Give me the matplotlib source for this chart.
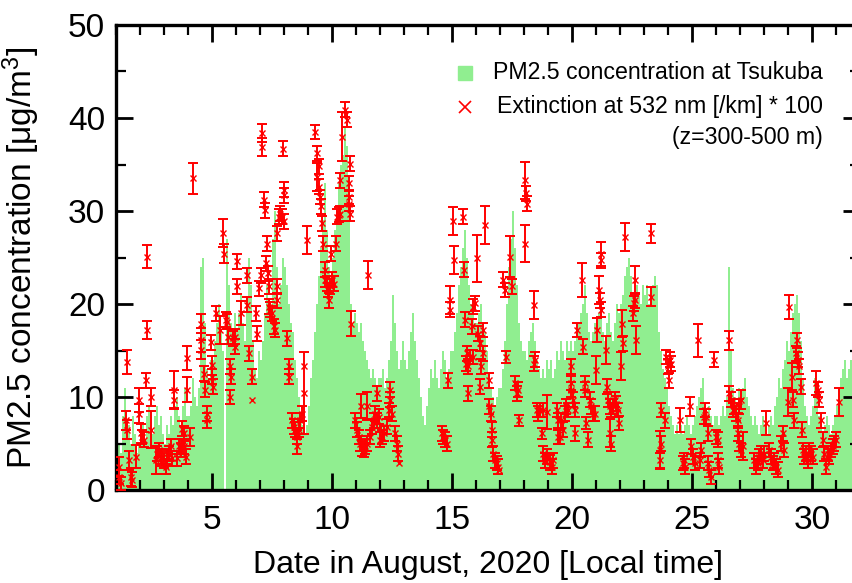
import numpy as np
import matplotlib
matplotlib.use("Agg")
import matplotlib.pyplot as plt
from matplotlib.ticker import MultipleLocator

plt.rcParams['font.family'] = ['Liberation Sans', 'DejaVu Sans']
plt.rcParams['mathtext.fontset'] = 'custom'
plt.rcParams['mathtext.rm'] = 'Liberation Sans'
plt.rcParams['mathtext.it'] = 'Liberation Sans:italic'

# PM2.5 at Tsukuba, 2-hourly means (12 per day), Aug 1 00:00 to Aug 31 24:00 [ug/m3]
pm25 = [
    3, 5, 4, 8, 11, 6, 7, 5, 8, 6, 4, 5,            # Aug 1
    6, 7, 5, 8, 9, 7, 6, 8, 9, 7, 8, 6,             # Aug 2
    5, 7, 6, 8, 7, 9, 10, 8, 7, 9, 11, 8,           # Aug 3
    8, 9, 12, 10, 9, 11, 24, 25, 18, 13, 12, 14,    # Aug 4
    14, 16, 18, 20, 17, 15, 0, 27, 22, 18, 16, 19,  # Aug 5
    17, 19, 21, 18, 16, 20, 25, 22, 16, 13, 12, 15, # Aug 6
    14, 16, 19, 22, 20, 18, 27, 30, 24, 20, 22, 25, # Aug 7
    24, 22, 20, 18, 17, 14, 12, 10, 8, 7, 6, 7,     # Aug 8
    9, 12, 14, 17, 20, 23, 26, 29, 33, 28, 24, 22,  # Aug 9
    25, 28, 30, 33, 35, 36, 39, 37, 33, 20, 18, 19, # Aug 10
    18, 17, 18, 16, 15, 14, 13, 12, 13, 12, 11, 12, # Aug 11
    12, 13, 11, 12, 14, 16, 21, 18, 15, 13, 14, 16, # Aug 12
    14, 13, 15, 17, 19, 16, 14, 12, 10, 8, 7, 9,    # Aug 13
    11, 13, 12, 14, 12, 11, 13, 15, 14, 12, 13, 15, # Aug 14
    15, 17, 19, 22, 24, 26, 28, 25, 22, 20, 19, 18, # Aug 15
    18, 19, 20, 18, 17, 15, 12, 11, 10, 9, 10, 11,  # Aug 16
    11, 13, 16, 20, 24, 27, 30, 26, 22, 18, 16, 15, # Aug 17
    15, 14, 16, 17, 18, 16, 14, 13, 12, 13, 12, 14, # Aug 18
    13, 14, 12, 13, 15, 14, 16, 15, 14, 16, 15, 16, # Aug 19
    15, 16, 17, 18, 19, 20, 22, 19, 17, 16, 17, 18, # Aug 20
    18, 19, 20, 17, 16, 18, 19, 17, 16, 18, 20, 19, # Aug 21
    20, 21, 23, 24, 25, 23, 21, 20, 22, 21, 20, 22, # Aug 22
    21, 22, 20, 21, 22, 23, 22, 17, 15, 13, 12, 11, # Aug 23
    9, 8, 7, 6, 7, 6, 7, 6, 7, 8, 7, 6,             # Aug 24
    7, 8, 9, 10, 11, 12, 9, 8, 9, 8, 7, 8,          # Aug 25
    8, 7, 8, 9, 8, 10, 24, 15, 11, 10, 9, 11,       # Aug 26
    10, 11, 12, 10, 9, 8, 7, 8, 7, 6, 7, 8,         # Aug 27
    7, 6, 7, 8, 7, 9, 10, 12, 11, 13, 14, 16,       # Aug 28
    15, 17, 19, 20, 21, 19, 16, 12, 9, 8, 7, 8,     # Aug 29
    9, 12, 10, 8, 7, 6, 7, 8, 7, 6, 7, 8,           # Aug 30
    9, 11, 12, 13, 14, 12, 13, 14, 12, 13, 11, 12,  # Aug 31
]

# Lidar extinction at 532 nm (z = 300-500 m), scaled by 100: time [day of August], value, error
ext_day = [
    1.47, 1.40, 1.47, 1.13, 1.13, 1.19, 1.54, 1.61, 1.68, 1.82, 1.96, 1.96, 2.03, 2.10, 2.17, 2.28, 2.31, 2.26, 2.44, 2.47,
    2.65, 2.72, 2.79, 2.86, 2.93, 3.00, 3.07, 3.14, 3.21, 3.28, 3.35, 3.42, 3.42, 3.56, 3.63, 3.69, 3.76, 3.83, 3.90, 3.76,
    3.83, 3.97, 3.94, 4.08, 4.21, 4.53, 4.56, 4.56, 4.67, 4.69, 4.78, 4.81, 4.94, 4.99, 5.01, 5.06, 5.15, 5.33, 5.46, 5.50,
    5.57, 5.64, 5.67, 5.75, 5.81, 5.75, 5.89, 5.94, 5.94, 6.06, 6.03, 6.19, 6.47, 6.47, 6.54, 6.68, 6.68, 6.82, 6.89, 6.96, 7.03,
    7.08, 7.08, 7.15, 7.19, 7.29, 7.25, 7.33, 7.36, 7.36, 7.43, 7.50, 7.57, 7.64, 7.71, 7.71, 7.71, 7.78, 7.85, 7.92, 7.99,
    7.96, 7.99, 7.99, 8.13, 8.19, 8.22, 8.33, 8.40, 8.47, 8.54, 8.54, 8.61, 8.68, 8.75, 8.82, 8.82, 8.96,
    9.31, 9.38, 9.44, 9.38, 9.47, 9.51, 9.56, 9.58, 9.61, 9.69, 9.72, 9.79, 9.83, 9.86, 9.93, 10.00, 10.07, 9.96, 10.17, 10.21,
    10.28, 10.35, 10.35, 10.42, 10.56, 10.63, 10.76, 10.72, 10.72, 10.69, 10.76, 10.81,
    10.97, 11.04, 11.11, 11.18, 11.25, 11.32, 11.39, 11.46, 11.22, 11.46, 11.48, 11.60, 11.67, 11.74, 11.81, 11.88, 11.94, 11.88,
    12.01, 12.08, 12.15, 12.29, 12.36, 12.43, 12.43, 12.50, 12.64, 12.71, 12.75, 12.78,
    14.57, 14.64, 14.71, 14.78, 14.85, 14.92, 14.92, 15.06, 15.10, 15.47, 15.51, 15.54, 15.61, 15.68, 15.68, 15.58, 15.75, 15.82, 15.86, 15.89, 15.96,
    16.03, 16.10, 16.17, 16.19, 16.17, 16.28, 16.31, 16.38, 16.54, 16.56, 16.61, 16.65, 16.68, 16.72, 16.79, 16.86, 16.93, 16.97,
    17.14, 17.21, 17.24, 17.42, 17.49, 17.63, 17.69, 17.76, 17.81, 18.04, 18.08, 18.11, 18.04,
    18.42, 18.46, 18.42, 18.53, 18.60, 18.67, 18.81, 18.74, 18.81, 18.88, 18.94, 19.08, 19.15, 19.22, 18.94, 19.36, 19.43, 19.43,
    19.56, 19.62, 19.49, 19.69, 19.76, 19.83, 19.94, 19.97, 19.97, 20.04, 20.11, 20.11, 20.22, 20.42, 20.46, 20.53, 20.56, 20.60, 20.67,
    20.74, 20.81, 20.88, 20.94, 21.01, 21.06, 21.11, 21.15, 21.19, 21.22, 21.22, 21.43, 21.47, 21.50, 21.57, 21.64, 21.71, 21.78, 21.85, 21.92, 21.94, 21.57, 21.61,
    22.06, 22.10, 22.13, 22.19, 22.54, 22.58, 22.61, 22.64, 22.68, 23.28, 23.31,
    23.65, 23.65, 23.72, 23.72, 23.86, 23.93, 24.00, 24.03, 24.07, 24.14, 24.49, 24.62, 24.67, 24.69, 24.90, 24.97, 25.04, 25.11, 25.25, 25.32, 25.39, 25.50, 25.53,
    25.58, 25.65, 25.65, 25.72, 25.79, 25.93, 26.00, 26.07, 26.07, 26.14, 26.53, 26.56, 26.63, 26.69, 26.76, 26.83, 26.90, 26.97, 27.04, 26.90, 26.97, 27.04, 27.11,
    27.60, 27.67, 27.74, 27.81, 27.88, 27.94, 28.01, 28.08, 28.22, 28.29, 28.36, 28.43, 28.50, 28.57, 28.71, 28.78, 28.85,
    28.99, 29.06, 29.17, 29.22, 29.26, 29.33, 29.38, 29.40, 29.47, 29.54, 29.58, 29.61, 29.68, 29.75, 29.82, 29.89, 29.96, 30.03,
    30.17, 30.24, 30.31, 30.38, 30.44, 30.51, 30.58, 30.65, 30.72, 30.79, 30.86, 30.93, 31.00, 31.11,
]
ext_val = [
    13.8, 7.5, 6.5, 2.5, 1.4, 0.7, 3.2, 1.4, 1.1, 3.6, 9.7, 8.2, 6.1, 5.7, 5.4, 25.1, 17.2, 11.8, 10.0, 6.5,
    3.2, 3.9, 4.3, 3.6, 3.4, 3.2, 2.5, 3.6, 3.9, 4.7, 3.4, 10.8, 9.7, 3.4, 4.7, 4.3, 4.7, 4.7, 3.6, 6.6,
    6.1, 14.2, 10.8, 5.7, 33.5, 17.9, 16.1, 15.1, 12.5, 10.8, 8.2, 7.5, 15.9, 13.4, 12.2, 11.1, 19.0, 17.2, 27.6, 25.4,
    18.3, 18.1, 16.5, 13.3, 12.2, 10.0, 16.3, 16.5, 15.4, 24.6, 21.9, 19.0, 23.1, 19.9, 14.7, 12.2, 9.7, 19.0, 16.8, 21.7, 23.1,
    38.4, 36.9, 31.2, 30.1, 26.5, 24.4, 23.3, 21.9, 19.7, 19.4, 19.0, 17.6, 17.2, 27.6, 21.9, 20.4, 29.4, 29.7, 29.4, 28.9,
    36.7, 32.3, 31.7, 16.3, 13.3, 12.2, 7.5, 6.8, 6.5, 5.7, 4.7, 6.5, 7.5, 8.2, 10.4, 13.3, 26.9,
    38.5, 36.2, 34.8, 33.7, 32.6, 31.5, 30.5, 28.7, 26.5, 23.7, 22.6, 22.2, 21.5, 20.4, 21.9, 22.6, 22.2, 25.4, 26.5, 29.4,
    29.6, 29.7, 33.3, 38.0, 40.9, 39.8, 35.1, 33.0, 31.5, 30.8, 29.7, 17.9,
    7.5, 6.5, 5.7, 5.0, 4.5, 4.3, 4.7, 5.0, 9.0, 9.0, 23.1, 5.7, 6.8, 7.5, 8.2, 7.5, 7.9, 10.4,
    5.4, 5.7, 6.1, 6.8, 8.6, 9.7, 10.8, 8.2, 6.1, 5.0, 3.9, 2.9,
    6.1, 5.7, 5.4, 5.0, 11.8, 20.4, 19.4, 28.9, 24.7, 29.4, 23.7, 18.3, 14.7, 13.3, 10.4, 13.6, 14.3, 17.6, 14.3, 19.7, 20.1,
    24.9, 16.8, 15.8, 13.3, 11.1, 17.2, 14.7, 28.5, 11.8, 9.0, 8.2, 6.5, 5.4, 3.9, 3.2, 2.9, 2.5, 2.2,
    22.6, 21.5, 14.3, 25.1, 21.9, 11.5, 10.4, 10.8, 7.5, 33.3, 31.9, 30.8, 26.5,
    19.9, 14.0, 13.6, 8.6, 8.2, 8.6, 8.6, 6.1, 3.9, 3.2, 3.6, 3.0, 2.5, 3.2, 8.4, 8.6, 7.5, 5.7,
    7.5, 6.5, 5.7, 8.2, 9.0, 8.6, 13.3, 11.5, 10.8, 9.7, 8.6, 6.1, 17.2, 22.6, 15.4, 11.5, 10.8, 7.2, 5.4,
    9.7, 9.0, 8.2, 8.2, 12.9, 17.2, 21.5, 20.4, 19.4, 25.4, 24.7, 15.1, 11.1, 9.7, 9.0, 8.6, 9.0, 9.7, 9.3, 8.6, 7.2, 6.1, 5.0,
    13.3, 17.9, 15.8, 27.2, 19.0, 20.1, 20.4, 22.6, 16.1, 27.6, 20.8,
    4.3, 3.2, 5.0, 8.6, 7.5, 14.3, 13.3, 11.8, 14.0, 13.6, 7.5, 2.9, 3.2, 2.5, 9.0, 4.7, 3.6, 2.9, 16.1, 3.2, 4.3, 7.9, 8.6,
    7.9, 6.1, 2.9, 2.2, 1.4, 14.0, 5.7, 5.4, 3.2, 2.5, 16.1, 10.4, 9.7, 8.6, 9.0, 8.2, 7.5, 9.0, 9.7, 6.1, 5.0, 4.3, 4.7,
    3.2, 2.5, 2.9, 3.6, 3.9, 3.2, 3.9, 7.2, 4.3, 3.6, 2.9, 3.2, 2.5, 2.2, 5.0, 6.1, 4.3,
    9.5, 19.7, 12.2, 9.7, 7.5, 14.7, 16.1, 14.0, 13.3, 11.1, 6.5, 4.3, 3.6, 3.9, 3.2, 4.3, 3.9, 3.6,
    11.5, 10.8, 9.7, 7.5, 5.4, 3.9, 2.5, 3.9, 3.6, 4.3, 4.7, 5.0, 5.4, 9.5,
]
ext_err = [
    1.3, 1.0, 1.0, 1.0, 0.8, 0.7, 1.0, 1.0, 0.8, 1.2, 1.3, 1.0, 1.0, 0.8, 0.8, 1.2, 1.0, 0.8, 1.0, 2.0,
    1.5, 0.8, 0.8, 0.8, 0.8, 0.8, 0.8, 0.8, 0.8, 0.8, 0.8, 2.0, 1.0, 0.8, 0.8, 0.8, 0.8, 0.8, 0.8, 0.8,
    0.8, 1.3, 1.3, 1.0, 1.7, 1.0, 1.3, 1.0, 0.8, 0.8, 0.8, 0.8, 0.8, 1.0, 0.8, 0.8, 0.8, 1.5, 1.5, 1.0,
    0.8, 0.8, 0.8, 0.8, 0.8, 0.8, 0.8, 0.8, 0.8, 0.8, 0.8, 1.3, 0.8, 0.8, 0.8, 0.8, 0.0, 0.8, 0.8, 0.8, 0.8,
    1.0, 1.0, 0.8, 0.8, 0.8, 0.8, 0.8, 0.8, 0.8, 0.8, 0.8, 0.8, 0.8, 0.8, 0.8, 0.8, 0.8, 0.8, 0.8, 0.8,
    0.8, 0.8, 0.8, 0.8, 0.8, 0.8, 0.8, 0.8, 0.8, 0.8, 0.8, 0.8, 0.8, 0.8, 4.4, 0.0, 1.5,
    0.8, 0.8, 0.8, 1.5, 0.8, 0.8, 0.8, 0.8, 0.8, 0.8, 0.8, 0.8, 0.8, 0.8, 0.8, 0.8, 0.8, 0.8, 0.8, 0.8,
    0.8, 0.8, 0.8, 2.6, 0.8, 0.8, 0.8, 0.8, 0.8, 0.8, 0.8, 1.3,
    0.8, 0.8, 0.8, 0.8, 0.8, 0.8, 0.8, 0.8, 1.3, 1.5, 1.5, 0.8, 0.8, 0.8, 0.8, 0.8, 0.8, 0.8,
    0.8, 0.8, 0.8, 0.8, 0.8, 0.8, 0.8, 0.8, 0.8, 0.8, 0.8, 0.0,
    0.8, 0.8, 0.8, 0.8, 0.8, 1.5, 0.8, 1.5, 1.5, 0.8, 0.8, 0.8, 0.8, 0.8, 0.8, 0.8, 0.8, 0.8, 0.8, 0.8, 0.8,
    2.5, 0.8, 0.8, 0.8, 0.8, 0.8, 0.8, 2.0, 0.8, 0.8, 0.8, 0.8, 0.8, 0.8, 0.8, 0.8, 0.8, 0.0,
    0.8, 0.8, 0.6, 2.2, 0.8, 0.8, 0.8, 0.8, 0.6, 2.0, 0.8, 0.8, 2.0,
    1.5, 0.8, 0.8, 0.8, 0.8, 0.8, 0.8, 0.6, 0.8, 0.8, 0.8, 0.8, 0.8, 0.8, 1.8, 0.8, 0.8, 0.8,
    0.8, 0.8, 0.8, 0.8, 0.8, 0.8, 0.8, 0.8, 0.8, 0.8, 0.8, 0.8, 0.8, 1.8, 0.8, 0.8, 0.8, 0.6, 0.8,
    0.8, 0.8, 0.8, 0.8, 1.5, 1.3, 1.5, 0.8, 0.8, 1.3, 0.8, 1.5, 0.8, 0.8, 0.8, 0.8, 0.8, 0.8, 0.8, 0.8, 0.8, 1.5, 0.8,
    1.5, 1.5, 0.8, 1.5, 0.8, 0.8, 0.8, 1.5, 1.5, 1.0, 1.0,
    2.0, 0.8, 0.8, 0.8, 0.8, 0.8, 0.8, 0.8, 0.8, 0.8, 1.3, 0.8, 0.8, 0.8, 1.0, 0.8, 0.8, 0.8, 1.8, 0.8, 0.8, 0.8, 0.8,
    0.8, 0.8, 0.8, 0.8, 0.8, 0.8, 0.8, 0.8, 0.8, 0.8, 1.0, 0.8, 0.8, 0.8, 0.8, 0.8, 0.8, 0.8, 1.0, 0.8, 0.8, 0.8, 1.5,
    0.8, 0.8, 0.8, 0.8, 0.8, 0.8, 0.8, 1.3, 0.8, 0.8, 0.8, 0.8, 0.8, 0.8, 0.8, 0.8, 0.8,
    1.5, 1.3, 1.5, 0.8, 0.8, 0.8, 0.8, 0.8, 0.8, 0.8, 0.8, 0.8, 0.8, 0.8, 0.8, 0.8, 0.8, 0.8,
    1.3, 0.8, 0.8, 0.8, 0.8, 0.8, 0.8, 0.8, 0.8, 0.8, 0.8, 0.8, 0.8, 1.5,
]

x_ticks = [5, 10, 15, 20, 25, 30]
y_ticks = [0, 10, 20, 30, 40, 50]

GREEN = '#90ee90'
RED = '#ff0000'

fig = plt.figure(figsize=(8.52, 5.83), dpi=100)
# the plot frame runs on to Aug 32, a little past the right edge of the figure
ax = fig.add_axes([116 / 852, 1 - 490 / 583, 744 / 852, 465 / 583])

pm = np.asarray(pm25, dtype=float)
step = 1.0 / 12
t0 = 1.0 + np.arange(pm.size) * step
ax.bar(t0, pm, width=step, align='edge', color=GREEN, linewidth=0,
       antialiased=False, zorder=1)

d = np.asarray(ext_day)
v = np.asarray(ext_val)
e = np.asarray(ext_err)
has_err = e > 0
ax.errorbar(d[has_err], v[has_err], yerr=e[has_err], fmt='none', ecolor=RED,
            elinewidth=1.4, capsize=3.5, capthick=1.4, zorder=3)
ax.plot(d, v, linestyle='none', marker='x', color=RED, markersize=4.5,
        markeredgewidth=1.0, zorder=4)

ax.set_xlim(1, 32)
ax.set_ylim(0, 50)
ax.set_xticks(x_ticks)
ax.set_yticks(y_ticks)
ax.xaxis.set_minor_locator(MultipleLocator(1))
ax.yaxis.set_minor_locator(MultipleLocator(5))
ax.tick_params(which='both', direction='in', top=True, right=True,
               labelsize=24, width=2.0, colors='black')
ax.tick_params(which='major', length=12)
ax.tick_params(which='minor', length=7, width=1.6)
ax.tick_params(axis='x', which='major', pad=11)
ax.tick_params(axis='y', which='major', pad=8)
for sp in ax.spines.values():
    sp.set_linewidth(2.4)

ax.set_xlabel('Date in August, 2020 [Local time]', fontsize=23)
ax.set_ylabel('PM2.5 concentration [μg/m$^3$]', fontsize=24)
ax.xaxis.set_label_coords(0.5, -0.128)
ax.yaxis.set_label_coords(-0.1, 0.5)

# key in the upper right
tr = ax.transAxes
ax.plot([0.469], [0.897], marker='s', markersize=10, color=GREEN,
        linestyle='none', transform=tr, clip_on=False, zorder=5)
ax.plot([0.469], [0.824], marker='x', markersize=9, markeredgewidth=1.2,
        color=RED, linestyle='none', transform=tr, clip_on=False, zorder=5)
ax.text(0.95, 0.897, 'PM2.5 concentration at Tsukuba', transform=tr,
        ha='right', va='center', fontsize=16.7)
ax.text(0.95, 0.824, 'Extinction at 532 nm [/km] * 100', transform=tr,
        ha='right', va='center', fontsize=16.7)
ax.text(0.95, 0.759, '(z=300-500 m)', transform=tr,
        ha='right', va='center', fontsize=16.7)

fig.savefig('out.png', dpi=100)
